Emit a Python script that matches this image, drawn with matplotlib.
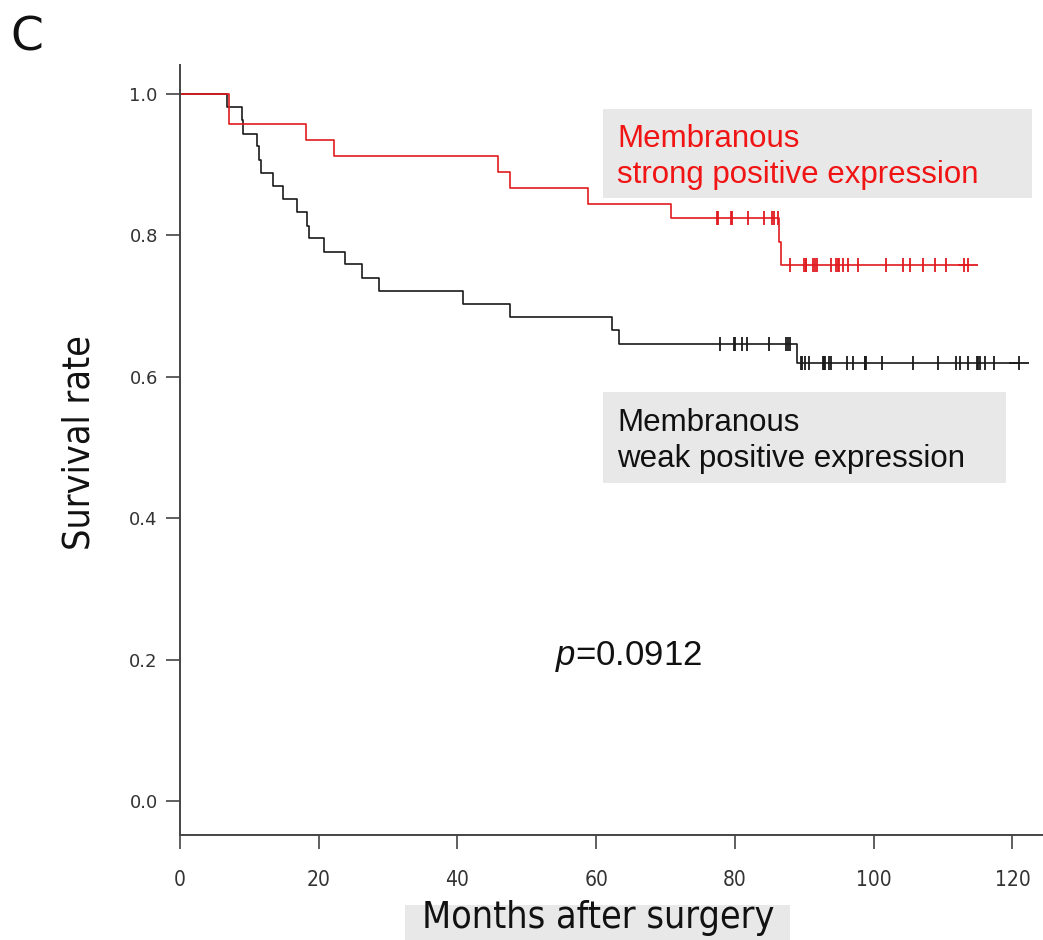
import numpy as np
import matplotlib
matplotlib.use("Agg")
import matplotlib.pyplot as plt
from matplotlib.patches import Rectangle

plt.rcParams['mathtext.fontset'] = 'custom'
plt.rcParams['mathtext.it'] = 'Liberation Sans:italic'
plt.rcParams['mathtext.rm'] = 'Liberation Sans'

# strong positive group (red)
strong_times = [0, 7.1, 18.2, 22.2, 45.9, 47.5, 58.8, 70.8, 86.3, 86.6]
strong_surv = [1.0, 0.957, 0.935, 0.913, 0.890, 0.867, 0.845, 0.824, 0.790, 0.758]
strong_censor = [77.4, 77.6, 79.4, 79.5, 81.9, 84.2, 85.3, 85.6, 86.2,
                 88.0, 90.0, 90.2, 90.3, 91.3, 91.5, 91.8, 93.8, 94.6, 94.8,
                 95.0, 95.6, 96.3, 97.7, 101.7, 104.2, 105.3, 107.1, 108.8,
                 110.4, 113.0, 113.6]

# weak positive group (black)
weak_times = [0, 6.8, 8.9, 9.1, 11.1, 11.4, 11.7, 13.4, 14.8, 16.9, 18.3, 18.6,
              20.8, 23.8, 26.3, 28.7, 40.8, 47.6, 62.2, 63.3, 88.9]
weak_surv = [1.0, 0.982, 0.963, 0.944, 0.926, 0.907, 0.888, 0.870, 0.851, 0.833,
             0.814, 0.796, 0.777, 0.759, 0.740, 0.722, 0.703, 0.685, 0.666, 0.647,
             0.620]
weak_censor = [77.8, 79.8, 80.0, 81.0, 81.8, 84.9, 87.4, 87.6, 88.0,
               89.5, 89.7, 90.1, 90.6, 92.7, 92.8, 93.0, 93.6, 93.8, 96.2, 97.0,
               98.7, 98.8, 98.9, 101.2, 105.6, 109.2, 111.9, 112.5, 113.6, 114.9,
               115.1, 115.3, 116.0, 117.4, 121.0]

x_ticks = [0, 20, 40, 60, 80, 100, 120]
y_ticks = [0.0, 0.2, 0.4, 0.6, 0.8, 1.0]

red = '#e01b20'
black = '#1a1a1a'
axis_col = '#444444'
narrow = dict(family='DejaVu Sans', fontstretch='condensed')


def km_curve(ax, times, surv, censor, color):
    t = list(times) + [max(censor)]
    s = list(surv) + [surv[-1]]
    ax.step(t, s, where='post', color=color, lw=1.2)
    idx = np.searchsorted(times, censor, side='right') - 1
    levels = np.array(surv)[idx]
    ax.plot(censor, levels, ls='none', marker='|', ms=10, mew=1.3, color=color)
    ax.plot([max(censor)], [surv[-1]], ls='none', marker='_', ms=14, mew=1.3, color=color)


fig = plt.figure(figsize=(10.43, 9.4), dpi=100)
ax = fig.add_axes([180 / 1043, 105 / 940, 1 - 180 / 1043, 770 / 940])

km_curve(ax, weak_times, weak_surv, weak_censor, black)
km_curve(ax, strong_times, strong_surv, strong_censor, red)

ax.set_xlim(0, 124.4)
ax.set_ylim(-0.048, 1.041)
ax.spines['top'].set_visible(False)
ax.spines['right'].set_visible(False)
for sp in ['left', 'bottom']:
    ax.spines[sp].set_color(axis_col)
    ax.spines[sp].set_linewidth(1.4)
ax.set_xticks(x_ticks)
ax.set_yticks(y_ticks)
ax.set_xticklabels([str(v) for v in x_ticks], fontsize=15, **narrow)
ax.set_yticklabels(['%.1f' % v for v in y_ticks], fontsize=13)
ax.tick_params(axis='both', length=10, width=1.2, color=axis_col,
               labelcolor='#333333')
ax.tick_params(axis='x', pad=15)
ax.tick_params(axis='y', pad=6)

# label boxes
fig.patches.append(Rectangle((603 / 1043, 1 - 198 / 940), 429 / 1043, 89 / 940,
                             transform=fig.transFigure, facecolor='#e8e8e8',
                             edgecolor='none', zorder=0))
fig.patches.append(Rectangle((603 / 1043, 1 - 483 / 940), 403 / 1043, 91 / 940,
                             transform=fig.transFigure, facecolor='#e8e8e8',
                             edgecolor='none', zorder=0))
fig.patches.append(Rectangle((405 / 1043, 0), 385 / 1043, 35 / 940,
                             transform=fig.transFigure, facecolor='#e8e8e8',
                             edgecolor='none', zorder=0))
ax.patch.set_alpha(0)

fig.text(617 / 1043, 1 - 157 / 940, 'Membranous\nstrong positive expression',
         color='#f01414', fontsize=22.5, family='Liberation Sans', va='center',
         ha='left', linespacing=1.22)
fig.text(617 / 1043, 1 - 441 / 940, 'Membranous\nweak positive expression',
         color='#111111', fontsize=22.5, family='Liberation Sans', va='center',
         ha='left', linespacing=1.22)
fig.text(629 / 1043, 1 - 656 / 940, '$p$=0.0912', color='#111111', fontsize=25,
         family='Liberation Sans', va='center', ha='center')
fig.text(598 / 1043, 1 - 918 / 940, 'Months after surgery', color='#111111',
         fontsize=27, va='center', ha='center', **narrow)
fig.text(80 / 1043, 1 - 443 / 940, 'Survival rate', color='#111111',
         fontsize=27, va='center', ha='center', rotation=90, **narrow)
fig.text(10 / 1043, 1 - 38 / 940, 'C', color='#111111', fontsize=34,
         family='DejaVu Sans', va='center', ha='left')

fig.savefig('out.png', dpi=100)
